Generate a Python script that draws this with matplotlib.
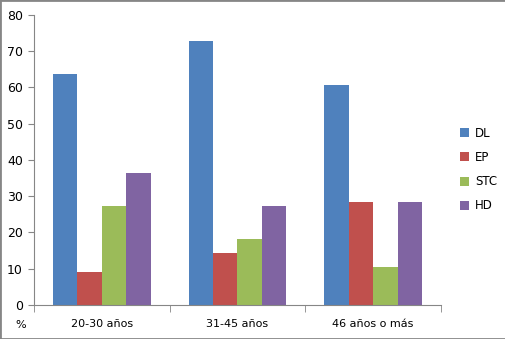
import matplotlib
matplotlib.use("Agg")
from matplotlib import pyplot as plt
from matplotlib.patches import Rectangle
import numpy as np

categories = ["20-30 años", "31-45 años", "46 años o más"]
series_names = ["DL", "EP", "STC", "HD"]
dl = [63.6, 72.7, 60.6]
ep = [9.1, 14.3, 28.3]
stc = [27.3, 18.2, 10.5]
hd = [36.4, 27.3, 28.3]
colors = ["#4F81BD", "#C0504D", "#9BBB59", "#8064A2"]

plt.rcParams['font.family'] = ['DejaVu Sans']
fig = plt.figure(figsize=(5.06, 3.39), dpi=100)
ax = fig.add_axes([0.0672, 0.1003, 0.8043, 0.8555])

index = np.arange(len(categories))
bar_width = 0.18
values = [dl, ep, stc, hd]
for i, (name, vals) in enumerate(zip(series_names, values)):
    ax.bar(index + (i - 1.5) * bar_width, vals, bar_width, color=colors[i], label=name)

grey = "#868686"
ax.set_xlim(-0.5, 2.5)
ax.set_ylim(0, 80)
ax.set_yticks(np.arange(0, 81, 10))
ax.set_xticks(index)
ax.set_xticklabels(categories)
ax.set_xticks(np.arange(-0.5, 3, 1), minor=True)
ax.tick_params(axis='x', which='major', length=0, pad=10, labelsize=8, colors='black')
ax.tick_params(axis='x', which='minor', length=5, color=grey, direction='out')
ax.tick_params(axis='y', length=4, color=grey, labelsize=9, pad=4)
for s in ["top", "right"]:
    ax.spines[s].set_visible(False)
for s in ["left", "bottom"]:
    ax.spines[s].set_color(grey)

fig.text(15 / 506, 1 - 325 / 339, "%", fontsize=8, ha='left', va='center')

ax.legend(loc='center left', bbox_to_anchor=(1.02, 0.467), frameon=False,
          fontsize=8.5, handlelength=0.8, handleheight=0.8, labelspacing=0.95,
          handletextpad=0.5)

fig.patches.append(Rectangle((0, 0), 1, 1, transform=fig.transFigure, fill=False,
                             edgecolor=grey, linewidth=2))

plt.savefig("out.png", dpi=100)
plt.close()
